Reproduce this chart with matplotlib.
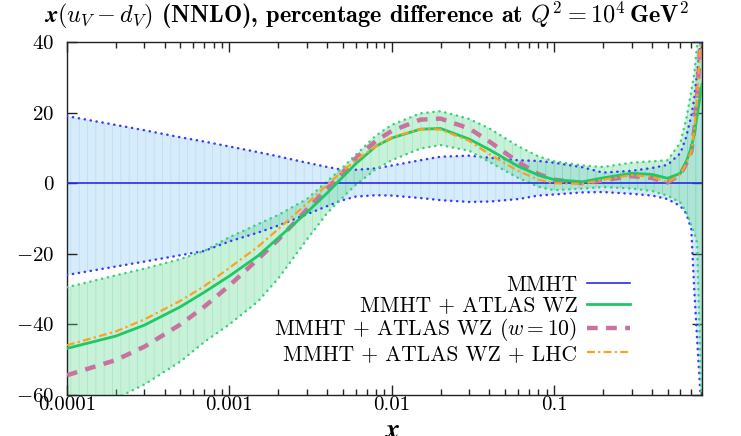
import matplotlib
matplotlib.use('Agg')
import matplotlib.pyplot as plt
from matplotlib.ticker import FixedLocator, FixedFormatter, LogLocator, NullFormatter

# ---------------- data ----------------
x_vals = [1e-4, 2e-4, 3e-4, 5e-4, 7e-4, 1e-3, 1.5e-3, 2e-3, 3e-3, 4e-3, 5e-3, 6e-3, 8e-3,
          0.01, 0.015, 0.02, 0.03, 0.04, 0.06, 0.08, 0.1, 0.15, 0.2, 0.3, 0.4, 0.5,
          0.6, 0.65, 0.7, 0.73, 0.76, 0.79, 0.815]

mmht_up = [19.0, 16.5, 15.0, 13.0, 11.8, 10.4, 8.8, 7.6, 5.8, 4.6, 3.8, 3.8, 4.2,
           5.0, 6.5, 7.5, 7.8, 7.2, 6.5, 6.3, 5.8, 4.5, 3.0, 3.5, 4.3, 5.2,
           8.5, 13, 19, 24, 31, 38, 44]
mmht_dn = [-26, -23.6, -22.2, -20.4, -19.2, -16.5, -14, -12, -8.8, -6.5, -4.8, -3.8, -3.4,
           -3.5, -4.2, -4.8, -5.3, -5.2, -4.5, -3.5, -3.2, -2.6, -2.5, -3.0, -3.5, -4.5,
           -6.5, -8.5, -13, -30, -44, -57, -66]
mmht_c = [0.0] * len(x_vals)

wz_up = [-29.5, -26.1, -24.2, -21.5, -19.2, -15.3, -11.6, -9.0, -4.5, 0.5, 4.5, 8, 13.5,
         16.5, 19.8, 20.4, 18.2, 15.5, 10.5, 7.6, 6.2, 5.0, 4.6, 5.8, 6.2, 6.5,
         11.5, 18, 26, 31, 39, 45, 49]
wz_dn = [-67, -61, -57, -50.5, -45, -40, -33.5, -27, -16, -8.5, -4, -0.5, 4.0,
         6.5, 9.8, 10.8, 9.2, 6.0, 1.5, -1.0, -2.0, -1.5, -1.1, -1.5, -2.2, -3.5,
         -5.5, -8, -12, -14, -17, -45, -66]
wz_c = [-46.8, -43.3, -40.2, -35.0, -30.9, -26.3, -20.6, -15.5, -8.3, -2.8, 1.8, 5.5, 10.5,
        12.8, 15.3, 15.5, 12.5, 9.5, 4.8, 2.3, 1.0, 0.4, 1.5, 2.8, 2.5, 1.4,
        2.8, 6, 10, 14, 19, 24, 28]
wz_w10 = [-54.4, -50.1, -46.3, -40.0, -35.0, -29, -21.5, -16, -7.5, -1.5, 3, 7, 12,
          14.8, 18, 18.3, 15.5, 11.8, 6.0, 2.6, 1.0, 0.0, 0.8, 2.0, 1.5, 0.2,
          2.5, 5.5, 9, 15, 24, 37, 45]
wz_lhc = [-45.9, -42.0, -38.6, -33.3, -29.2, -24, -18, -13, -5.8, -0.5, 3.5, 6.5, 10.5,
          13, 15.3, 15.2, 12, 8.2, 3.5, 1.0, 0.0, -0.2, 1.0, 2.3, 1.8, 0.3,
          2.5, 5.5, 9, 15, 24, 37, 45]

labels = ['MMHT', 'MMHT + ATLAS WZ', r'MMHT + ATLAS WZ ($w = 10$)', 'MMHT + ATLAS WZ + LHC']
xtick_vals = [1e-4, 1e-3, 1e-2, 1e-1]
xtick_labels = ['0.0001', '0.001', '0.01', '0.1']
ytick_vals = [-60, -40, -20, 0, 20, 40]
ytick_labels = ['$-60$', '$-40$', '$-20$', '$0$', '$20$', '$40$']

# ---------------- style ----------------
plt.rcParams['mathtext.fontset'] = 'cm'
plt.rcParams['font.family'] = 'serif'
plt.rcParams['font.serif'] = ['cmr10']
plt.rcParams['axes.formatter.use_mathtext'] = True
plt.rcParams['hatch.linewidth'] = 0.6

fig = plt.figure(figsize=(7.41, 4.36), dpi=100)
ax = fig.add_axes([67/741, 1-395/436, 635/741, 353/436])
ax.set_xscale('log')
ax.set_xlim(1e-4, 0.815)
ax.set_ylim(-60, 40)

blue = '#2a2af0'
green = '#1fc865'
dot_blue = '#3a3aff'
dot_green = '#3ad07c'
mag = '#c8739e'
orange = '#ffa020'

ax.fill_between(x_vals, mmht_dn, mmht_up, facecolor=(0.66, 0.835, 0.96, 0.45),
                edgecolor=(0.55, 0.78, 0.93, 0.35), hatch='||', linewidth=0, zorder=1)
ax.fill_between(x_vals, wz_dn, wz_up, facecolor=(0.35, 0.84, 0.55, 0.33),
                edgecolor=(0.3, 0.8, 0.5, 0.25), hatch='||', linewidth=0, zorder=2)

dotted = (0, (0.1, 2.3))
for yy in (mmht_up, mmht_dn):
    ax.plot(x_vals, yy, color=dot_blue, lw=1.8, linestyle=dotted,
            dash_capstyle='round', zorder=3)
for yy in (wz_up, wz_dn):
    ax.plot(x_vals, yy, color=dot_green, lw=1.8, linestyle=dotted,
            dash_capstyle='round', zorder=3)

l1, = ax.plot(x_vals, mmht_c, color=blue, lw=1.2, zorder=4, label=labels[0])
l2, = ax.plot(x_vals, wz_c, color=green, lw=2.0, zorder=6, label=labels[1])
l3, = ax.plot(x_vals, wz_w10, color=mag, lw=3.2, linestyle=(0, (2.4, 1.9)),
              zorder=5, label=labels[2])
l4, = ax.plot(x_vals, wz_lhc, color=orange, lw=1.6, linestyle=(0, (3.5, 1.5, 1, 1.5)),
              zorder=7, label=labels[3])

# ticks
ax.xaxis.set_major_locator(FixedLocator(xtick_vals))
ax.xaxis.set_major_formatter(FixedFormatter(xtick_labels))
ax.xaxis.set_minor_locator(LogLocator(base=10, subs=range(2, 10), numticks=20))
ax.xaxis.set_minor_formatter(NullFormatter())
ax.yaxis.set_major_locator(FixedLocator(ytick_vals))
ax.yaxis.set_major_formatter(FixedFormatter(ytick_labels))
ax.tick_params(axis='both', which='both', direction='in', top=True, right=True,
               labelsize=15, color='#222222')
ax.tick_params(axis='both', which='major', length=7, width=1)
ax.tick_params(axis='both', which='minor', length=4, width=1)
ax.tick_params(axis='x', pad=1)
ax.tick_params(axis='y', pad=9)
for s in ax.spines.values():
    s.set_color('#222222')
    s.set_linewidth(1.0)

leg = ax.legend(handles=[l1, l2, l3, l4], loc='lower right', markerfirst=False,
                frameon=False, fontsize=15.5, handlelength=2.0, handletextpad=0.45,
                labelspacing=0.05, borderpad=0, borderaxespad=0,
                bbox_to_anchor=(630/741, (436-364)/436), bbox_transform=fig.transFigure)

title = (r'$\boldsymbol{x(u_V - d_V)}$ (NNLO), percentage difference at '
         r'$\boldsymbol{Q^2 = 10^4}\,\mathbf{GeV^2}$')
fig.text(44/741, 1-15/436, title, fontsize=17.5, family='cmb10', va='center', ha='left')
fig.text(392/741, 5/436, r'$\boldsymbol{x}$', fontsize=20, ha='center', va='center')

fig.savefig('out.png', dpi=100)
